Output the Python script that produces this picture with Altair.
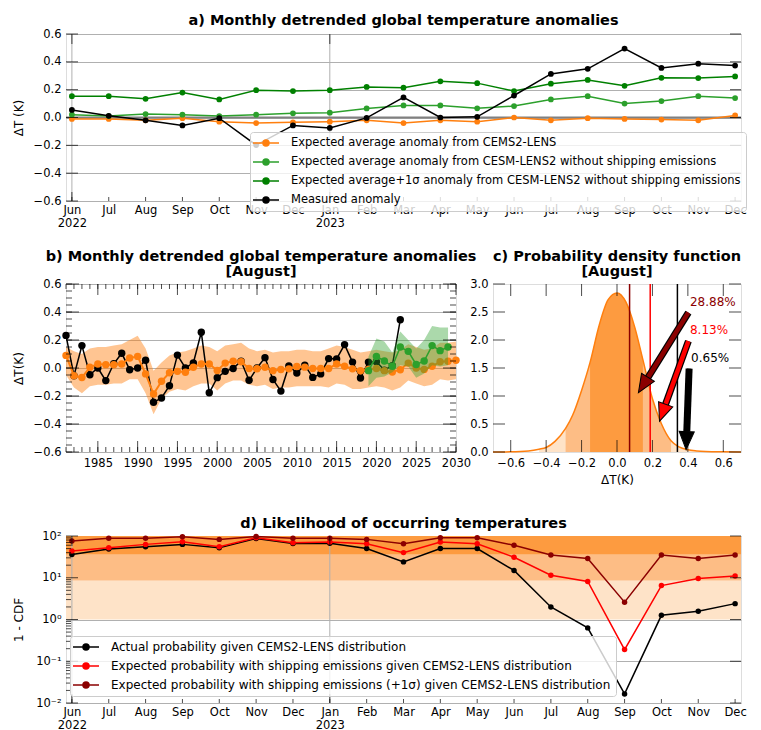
import altair as alt
import pandas as pd

FONT = "DejaVu Sans"

# ---------------- shared month axis (panels a and d)
months = ["Jun", "Jul", "Aug", "Sep", "Oct", "Nov", "Dec", "Jan", "Feb", "Mar",
          "Apr", "May", "Jun", "Jul", "Aug", "Sep", "Oct", "Nov", "Dec"]
month_years = ["2022", "", "", "", "", "", "", "2023", "", "", "", "", "", "", "", "", "", "", ""]
month_idx = list(range(len(months)))
year_idx = [0, 7]

# ---------------- panel a
a_series = [
    "Expected average anomaly from CEMS2-LENS",
    "Expected average anomaly from CESM-LENS2 without shipping emissions",
    "Expected average+1σ anomaly from CESM-LENS2 without shipping emissions",
    "Measured anomaly",
]
a_colors = ["#ff7f0e", "#2ca02c", "#008000", "#000000"]
a_cems = [-0.01, -0.01, -0.02, -0.005, -0.03, -0.04, -0.035, -0.03, -0.02, -0.04,
          -0.02, -0.03, 0.0, -0.02, -0.005, -0.01, -0.015, -0.02, 0.015]
a_noship = [0.02, 0.01, 0.025, 0.02, 0.01, 0.02, 0.03, 0.035, 0.065, 0.087,
            0.087, 0.066, 0.082, 0.13, 0.153, 0.10, 0.118, 0.153, 0.14]
a_noship_1s = [0.153, 0.153, 0.134, 0.179, 0.13, 0.196, 0.19, 0.196, 0.22, 0.214,
               0.26, 0.247, 0.19, 0.243, 0.27, 0.228, 0.285, 0.283, 0.295]
a_measured = [0.054, 0.012, -0.02, -0.057, -0.005, -0.198, -0.057, -0.075, -0.003, 0.144,
              0.0, 0.005, 0.158, 0.313, 0.35, 0.495, 0.356, 0.387, 0.373]
a_yticks = [-0.6, -0.4, -0.2, 0.0, 0.2, 0.4, 0.6]

# ---------------- panel b
b_obs_years = list(range(1981, 2024))
b_obs = [0.233, -0.055, 0.16, -0.048, 0.0, -0.09, 0.03, 0.105, -0.012, 0.0,
         0.055, -0.245, -0.214, -0.127, 0.092, 0.0, 0.036, 0.255, -0.177, -0.069,
         -0.024, -0.003, 0.048, -0.088, 0.0, 0.074, -0.082, -0.165, 0.015, -0.036,
         0.02, -0.067, -0.042, 0.067, 0.065, 0.167, 0.042, -0.071, 0.042, 0.045,
         -0.015, 0.017, 0.345]
b_ens_years = list(range(1981, 2031))
b_ens = [0.09, -0.055, -0.068, 0.005, 0.029, 0.024, 0.024, 0.028, 0.071, 0.083,
         -0.042, -0.186, -0.095, -0.034, -0.024, -0.03, 0.005, 0.029, 0.028, -0.018,
         0.035, 0.048, 0.045, -0.004, -0.005, 0.005, -0.019, -0.011, -0.006, 0.011,
         0.006, -0.004, -0.004, -0.004, 0.029, 0.012, -0.006, -0.02, -0.01, -0.004,
         -0.019, -0.028, -0.012, 0.035, 0.0, -0.01, 0.012, 0.045, 0.048, 0.055]
b_ens_hi = [0.15, 0.12, 0.10, 0.14, 0.15, 0.15, 0.16, 0.17, 0.20, 0.23,
            0.14, -0.02, 0.04, 0.09, 0.11, 0.12, 0.14, 0.16, 0.15, 0.12,
            0.16, 0.17, 0.18, 0.14, 0.12, 0.13, 0.11, 0.12, 0.12, 0.13,
            0.13, 0.12, 0.12, 0.14, 0.16, 0.15, 0.13, 0.11, 0.12, 0.13,
            0.12, 0.11, 0.13, 0.17, 0.15, 0.13, 0.14, 0.18, 0.18, 0.19]
b_ens_lo = [-0.05, -0.14, -0.18, -0.13, -0.12, -0.12, -0.11, -0.11, -0.08, -0.08,
            -0.18, -0.33, -0.22, -0.17, -0.15, -0.16, -0.13, -0.11, -0.11, -0.16,
            -0.11, -0.09, -0.09, -0.12, -0.13, -0.12, -0.15, -0.14, -0.14, -0.13,
            -0.13, -0.13, -0.13, -0.14, -0.11, -0.12, -0.15, -0.15, -0.14, -0.13,
            -0.14, -0.16, -0.14, -0.09, -0.11, -0.13, -0.12, -0.08, -0.09, -0.08]
b_gr_years = list(range(2019, 2030))
b_gr = [-0.019, 0.083, 0.05, 0.012, 0.15, 0.119, 0.025, 0.05, 0.16, 0.124, 0.15]
b_gr_hi = [0.08, 0.21, 0.19, 0.11, 0.26, 0.20, 0.14, 0.20, 0.30, 0.29, 0.29]
b_gr_lo = [-0.13, -0.07, -0.06, -0.03, 0.02, 0.01, -0.07, -0.04, 0.02, 0.01, 0.02]
b_major = list(range(1985, 2031, 5))
b_minor = list(range(1981, 2031))
b_yminor = [round(-0.6 + 0.05 * k, 2) for k in range(25)]

# ---------------- panel c
c_x = [-0.7, -0.6, -0.5, -0.44, -0.4, -0.35, -0.29, -0.25, -0.2, -0.152, -0.1, -0.05,
       0.0, 0.05, 0.1, 0.146, 0.2, 0.25, 0.305, 0.35, 0.4, 0.45, 0.5, 0.6, 0.7]
c_pdf = [0.0, 0.003, 0.02, 0.05, 0.08, 0.19, 0.42, 0.66, 1.1, 1.6, 2.27, 2.72,
         2.84, 2.68, 2.23, 1.65, 0.95, 0.51, 0.2, 0.09, 0.04, 0.02, 0.01, 0.003, 0.0]
c_regions = [(-0.44, 0.45, "#fee3c8"), (-0.29, 0.305, "#fdbd85"), (-0.152, 0.146, "#fd9b40")]
c_xticks = [-0.6, -0.4, -0.2, 0.0, 0.2, 0.4, 0.6]
c_yticks = [0, 0.5, 1, 1.5, 2, 2.5, 3]
c_vline_x = [0.071, 0.1875, 0.341]
c_colors = ["#8b0000", "#ff0000", "#000000"]
c_arrow_x0 = [0.403, 0.403, 0.407]
c_arrow_y0 = [2.49, 1.98, 1.49]
c_arrow_xb = [0.175, 0.274, 0.394]
c_arrow_yb = [1.33, 0.853, 0.366]
c_arrow_xt = [0.121, 0.24, 0.39]
c_arrow_yt = [1.06, 0.55, 0.043]
c_arrow_angle = [32, 20, 2]
c_text = ["28.88%", "8.13%", "0.65%"]
c_text_x = [0.412, 0.412, 0.418]
c_text_y = [2.68, 2.18, 1.67]

# ---------------- panel d
d_series = [
    "Actual probability given CEMS2-LENS distribution",
    "Expected probability with shipping emissions given CEMS2-LENS distribution",
    "Expected probability with shipping emissions (+1σ) given CEMS2-LENS distribution",
]
d_colors = ["#000000", "#ff0000", "#8b0000"]
d_actual = [36, 49, 55, 63, 52, 87, 66, 67, 50, 24, 50, 50, 15, 2.0, 0.63, 0.0165, 1.26, 1.58, 2.4]
d_expected = [44, 52, 63, 73, 55, 91, 69, 72, 65, 40, 72, 65, 31, 11.5, 8.13, 0.19, 6.5, 9.6, 11]
d_expected_1s = [76, 88, 88, 96, 83, 97, 88, 88, 83, 65, 91, 91, 60, 35, 28.88, 2.6, 35, 29, 35]
d_band_lo = [35.5, 8.5, 1.0]
d_band_hi = [100, 35.5, 8.5]
d_band_col = ["#fd9b40", "#fdbd85", "#fee3c8"]
d_yticks = [0.01, 0.1, 1, 10, 100]
d_ylabels = ["10⁻²", "10⁻¹", "10⁰", "10¹", "10²"]
d_minor = [m * 10 ** e for e in (-2, -1, 0, 1) for m in range(2, 10)]

# ---------------- helpers
parts = [f"['{m}','{y}']" if y else f"'{m}'" for m, y in zip(months, month_years)]
month_label_expr = "[" + ",".join(parts) + "][round(datum.value)]"
d_label_expr = "[" + ",".join(f"'{t}'" for t in d_ylabels) + "][round(log(datum.value)/LN10)+2]"

rings = "".join(f"M{r},0A{r},{r},0,1,1,{-r},0A{r},{r},0,1,1,{r},0" for r in (0.15, 0.3, 0.45, 0.6))
SYM = "M-2.6,0L2.6,0" + rings


def legend(x, y, fs):
    return alt.Legend(title=None, orient="none", legendX=x, legendY=y, symbolType=SYM,
                      symbolSize=100, symbolStrokeWidth=1.5, symbolOffset=5, labelOffset=19,
                      labelFont=FONT, labelFontSize=fs, labelLimit=800, labelColor="black",
                      fillColor="rgba(255,255,255,0.8)", strokeColor="#cccccc", padding=5,
                      cornerRadius=3, rowPadding=7)


def xticks(vals, at, length, side, xs, ys, xa, ya):
    off = length / 2 if side == "top" else -length / 2
    return alt.Chart(pd.DataFrame({"t": vals})).mark_tick(
        orient="vertical", size=length, thickness=1, color="black", yOffset=off
    ).encode(x=alt.X("t:Q", scale=xs, axis=xa), y=alt.YDatum(at, scale=ys, axis=ya))


def yticks(vals, at, length, side, xs, ys, xa, ya):
    off = length / 2 if side == "left" else -length / 2
    return alt.Chart(pd.DataFrame({"t": vals})).mark_tick(
        orient="horizontal", size=length, thickness=1, color="black", xOffset=off
    ).encode(y=alt.Y("t:Q", scale=ys, axis=ya), x=alt.XDatum(at, scale=xs, axis=xa))


def title(lines, off):
    return alt.TitleParams(text=lines, font=FONT, fontSize=14.5, fontWeight="bold", color="black",
                           anchor="middle", offset=off, lineHeight=15)


AX = dict(labelFont=FONT, labelFontSize=11.5, labelColor="black", titleFont=FONT,
          titleFontSize=12, titleFontWeight="normal", titleColor="black", domain=False,
          ticks=False, labelFlush=False, labelOverlap=False, titlePadding=6,
          gridColor="#b0b0b0")

# ================= panel a
XM = alt.Scale(domain=[-0.16, 18.16], nice=False, zero=False)
YA = alt.Scale(domain=[-0.6, 0.6], nice=False, zero=False)
rows = []
for s, vals in zip(a_series, [a_cems, a_noship, a_noship_1s, a_measured]):
    for i, v in enumerate(vals):
        rows.append({"m": i, "v": v, "series": s})
df_a = pd.DataFrame(rows)

xax_m = alt.Axis(values=month_idx, labelExpr=month_label_expr, title=None, grid=False,
                 labelPadding=3, **AX)
yax_a = alt.Axis(values=a_yticks, format=".1f", title="ΔT (K)", grid=True, titleX=-41,
                 labelPadding=5, **AX)
a_layers = [
    alt.Chart(pd.DataFrame({"t": year_idx})).mark_rule(color="#b0b0b0", strokeWidth=1).encode(
        x=alt.X("t:Q", scale=XM, axis=xax_m)),
    alt.Chart(pd.DataFrame({"t": [0.0]})).mark_rule(color="#808080", strokeWidth=2).encode(
        y=alt.Y("t:Q", scale=YA, axis=yax_a)),
]
for s in a_series:
    a_layers.append(
        alt.Chart(df_a).transform_filter(alt.FieldEqualPredicate(field="series", equal=s)).mark_line(
            strokeWidth=1.5, point=alt.OverlayMarkDef(filled=True, size=33, opacity=1)
        ).encode(
            x=alt.X("m:Q", scale=XM, axis=xax_m),
            y=alt.Y("v:Q", scale=YA, axis=yax_a),
            color=alt.Color("series:N", scale=alt.Scale(domain=a_series, range=a_colors),
                            legend=legend(184, 98, 11.5)),
        )
    )
a_layers += [
    yticks(a_yticks, -0.16, 12, "left", XM, YA, xax_m, yax_a),
    yticks(a_yticks, 18.16, 11, "right", XM, YA, xax_m, yax_a),
    xticks(month_idx, -0.6, 4, "bottom", XM, YA, xax_m, yax_a),
    xticks(year_idx, -0.6, 9, "bottom", XM, YA, xax_m, yax_a),
    xticks(year_idx, 0.6, 10, "top", XM, YA, xax_m, yax_a),
]
panel_a = alt.layer(*a_layers).properties(
    width=675, height=167, title=title("a) Monthly detrended global temperature anomalies", -0.5))

# ================= panel b
XB = alt.Scale(domain=[1981, 2030], nice=False, zero=False)
YB = alt.Scale(domain=[-0.6, 0.6], nice=False, zero=False)
df_obs = pd.DataFrame({"yr": b_obs_years, "v": b_obs})
df_ens = pd.DataFrame({"yr": b_ens_years, "v": b_ens, "hi": b_ens_hi, "lo": b_ens_lo})
df_gr = pd.DataFrame({"yr": b_gr_years, "v": b_gr, "hi": b_gr_hi, "lo": b_gr_lo})
xax_b = alt.Axis(values=b_major, format="d", title=None, grid=False, labelPadding=5, **AX)
yax_b = alt.Axis(values=a_yticks, format=".1f", title="ΔT(K)", grid=True, titleX=-41,
                 labelPadding=5, **AX)
panel_b = alt.layer(
    alt.Chart(df_ens).mark_area(color="#ff7f0e", opacity=0.45).encode(
        x=alt.X("yr:Q", scale=XB, axis=xax_b), y=alt.Y("hi:Q", scale=YB, axis=yax_b), y2="lo:Q"),
    alt.Chart(df_obs).mark_line(color="black", strokeWidth=1.5,
                                point=alt.OverlayMarkDef(filled=True, size=55, color="black", opacity=1)).encode(
        x=alt.X("yr:Q", scale=XB, axis=xax_b), y=alt.Y("v:Q", scale=YB, axis=yax_b)),
    alt.Chart(df_ens).mark_line(color="#ff7f0e", strokeWidth=2,
                                point=alt.OverlayMarkDef(filled=True, size=55, color="#ff7f0e", opacity=1)).encode(
        x=alt.X("yr:Q", scale=XB, axis=xax_b), y=alt.Y("v:Q", scale=YB, axis=yax_b)),
    alt.Chart(df_gr).mark_area(color="#2ca02c", opacity=0.4).encode(
        x=alt.X("yr:Q", scale=XB, axis=xax_b), y=alt.Y("hi:Q", scale=YB, axis=yax_b), y2="lo:Q"),
    alt.Chart(df_gr).mark_line(color="#2ca02c", strokeWidth=1.5,
                               point=alt.OverlayMarkDef(filled=True, size=55, color="#2ca02c", opacity=1)).encode(
        x=alt.X("yr:Q", scale=XB, axis=xax_b), y=alt.Y("v:Q", scale=YB, axis=yax_b)),
    xticks(b_major, -0.6, 11, "bottom", XB, YB, xax_b, yax_b),
    xticks(b_major, 0.6, 11, "top", XB, YB, xax_b, yax_b),
    xticks(b_minor, -0.6, 5, "bottom", XB, YB, xax_b, yax_b),
    xticks(b_minor, 0.6, 5, "top", XB, YB, xax_b, yax_b),
    yticks(a_yticks, 1981, 13, "left", XB, YB, xax_b, yax_b),
    yticks(a_yticks, 2030, 13, "right", XB, YB, xax_b, yax_b),
    yticks(b_yminor, 1981, 6, "left", XB, YB, xax_b, yax_b),
    yticks(b_yminor, 2030, 6, "right", XB, YB, xax_b, yax_b),
).properties(width=390, height=168,
             title=title(["b) Monthly detrended global temperature anomalies", "[August]"], -1))

# ================= panel c
XC = alt.Scale(domain=[-0.7, 0.7], nice=False, zero=False)
YC = alt.Scale(domain=[0, 3], nice=False, zero=False)
df_c = pd.DataFrame({"x": c_x, "p": c_pdf})
xax_c = alt.Axis(values=c_xticks, format=".1f", title="ΔT(K)", grid=False, labelPadding=5, **AX)
yax_c = alt.Axis(values=c_yticks, format=".1f", title=None, grid=False, labelPadding=5, **AX)
c_layers = []
for lo, hi, col in c_regions:
    c_layers.append(
        alt.Chart(df_c).transform_filter(alt.FieldRangePredicate(field="x", range=[lo, hi])).mark_area(
            color=col, opacity=1, interpolate="monotone").encode(
            x=alt.X("x:Q", scale=XC, axis=xax_c), y=alt.Y("p:Q", scale=YC, axis=yax_c)))
c_layers.append(alt.Chart(df_c).mark_line(color="#ff7f0e", strokeWidth=1.5, interpolate="monotone").encode(
    x=alt.X("x:Q", scale=XC, axis=xax_c), y=alt.Y("p:Q", scale=YC, axis=yax_c)))
df_arr = pd.DataFrame({"x0": c_arrow_x0, "y0": c_arrow_y0, "xb": c_arrow_xb, "yb": c_arrow_yb,
                       "xt": c_arrow_xt, "yt": c_arrow_yt, "ang": c_arrow_angle, "col": c_colors,
                       "vx": c_vline_x, "txt": c_text, "tx": c_text_x, "ty": c_text_y})
col_scale = alt.Scale(domain=c_colors, range=c_colors)
c_layers += [
    alt.Chart(df_arr).mark_rule(strokeWidth=1.5).encode(
        x=alt.X("vx:Q", scale=XC, axis=xax_c), color=alt.Color("col:N", scale=col_scale, legend=None)),
    alt.Chart(df_arr).mark_rule(strokeWidth=7, color="black").encode(
        x=alt.X("x0:Q", scale=XC, axis=xax_c), y=alt.Y("y0:Q", scale=YC, axis=yax_c), x2="xb:Q", y2="yb:Q"),
    alt.Chart(df_arr).mark_rule(strokeWidth=4.5).encode(
        x=alt.X("x0:Q", scale=XC, axis=xax_c), y=alt.Y("y0:Q", scale=YC, axis=yax_c), x2="xb:Q", y2="yb:Q",
        color=alt.Color("col:N", scale=col_scale, legend=None)),
    alt.Chart(df_arr).mark_point(shape="M0,0L-0.42,-1L0.42,-1Z", size=1296, filled=True, opacity=1,
                                 stroke="black", strokeWidth=1).encode(
        x=alt.X("xt:Q", scale=XC, axis=xax_c), y=alt.Y("yt:Q", scale=YC, axis=yax_c),
        angle=alt.Angle("ang:Q", scale=None),
        fill=alt.Fill("col:N", scale=col_scale, legend=None)),
    alt.Chart(df_arr).mark_text(align="left", baseline="middle", font=FONT, fontSize=12).encode(
        x=alt.X("tx:Q", scale=XC, axis=xax_c), y=alt.Y("ty:Q", scale=YC, axis=yax_c), text="txt:N",
        color=alt.Color("col:N", scale=col_scale, legend=None)),
    xticks(c_xticks, 0, 12, "bottom", XC, YC, xax_c, yax_c),
    xticks(c_xticks, 3, 12, "top", XC, YC, xax_c, yax_c),
    yticks(c_yticks, -0.7, 12, "left", XC, YC, xax_c, yax_c),
    yticks(c_yticks, 0.7, 12, "right", XC, YC, xax_c, yax_c),
]
panel_c = alt.layer(*c_layers).properties(
    width=248, height=168, title=title(["c) Probability density function", "[August]"], -1))

# ================= panel d
YD = alt.Scale(type="log", domain=[0.01, 100], nice=False)
yax_d = alt.Axis(values=d_yticks, labelExpr=d_label_expr, title="1 - CDF", grid=True, titleX=-41,
                 labelPadding=5, **AX)
rows = []
for s, vals in zip(d_series, [d_actual, d_expected, d_expected_1s]):
    for i, v in enumerate(vals):
        rows.append({"m": i, "p": v, "series_d": s})
df_d = pd.DataFrame(rows)
df_band = pd.DataFrame({"lo": d_band_lo, "hi": d_band_hi, "col": d_band_col,
                        "x0": [-0.16] * 3, "x1": [18.16] * 3})
d_layers = [
    alt.Chart(df_band).mark_rect(opacity=1).encode(
        x=alt.X("x0:Q", scale=XM, axis=xax_m), x2="x1:Q",
        y=alt.Y("lo:Q", scale=YD, axis=yax_d), y2="hi:Q",
        fill=alt.Fill("col:N", scale=None)),
    alt.Chart(pd.DataFrame({"t": year_idx})).mark_rule(color="#b0b0b0", strokeWidth=1).encode(
        x=alt.X("t:Q", scale=XM, axis=xax_m)),
]
for s in d_series:
    d_layers.append(
        alt.Chart(df_d).transform_filter(alt.FieldEqualPredicate(field="series_d", equal=s)).mark_line(
            strokeWidth=1.5, point=alt.OverlayMarkDef(filled=True, size=30, opacity=1)
        ).encode(
            x=alt.X("m:Q", scale=XM, axis=xax_m),
            y=alt.Y("p:Q", scale=YD, axis=yax_d),
            color=alt.Color("series_d:N", scale=alt.Scale(domain=d_series, range=d_colors),
                            legend=legend(4, 100, 12)),
        )
    )
d_layers += [
    yticks(d_yticks, -0.16, 12, "left", XM, YD, xax_m, yax_d),
    yticks(d_minor, -0.16, 5, "left", XM, YD, xax_m, yax_d),
    yticks(d_yticks, 18.16, 11, "right", XM, YD, xax_m, yax_d),
    xticks(month_idx, 0.01, 4, "bottom", XM, YD, xax_m, yax_d),
    xticks(year_idx, 0.01, 9, "bottom", XM, YD, xax_m, yax_d),
    xticks(year_idx, 100, 10, "top", XM, YD, xax_m, yax_d),
]
panel_d = alt.layer(*d_layers).properties(
    width=675, height=167, title=title("d) Likelihood of occurring temperatures", -1.5))

row_bc = alt.hconcat(panel_b, panel_c, spacing=37, bounds="flush").resolve_scale(
    color="independent", fill="independent").resolve_legend(color="independent", fill="independent")
lower = alt.vconcat(row_bc, panel_d, spacing=29).resolve_scale(
    color="independent", fill="independent").resolve_legend(color="independent", fill="independent")
chart = alt.vconcat(panel_a, lower, spacing=18).resolve_scale(
    color="independent", fill="independent").resolve_legend(color="independent", fill="independent")
chart = chart.properties(padding={"top": 4, "left": 3, "right": 0, "bottom": 0})
chart = chart.configure_view(stroke="black", strokeWidth=1).configure(font=FONT)

chart.save("out.html", embed_options={"renderer": "svg", "actions": False})
